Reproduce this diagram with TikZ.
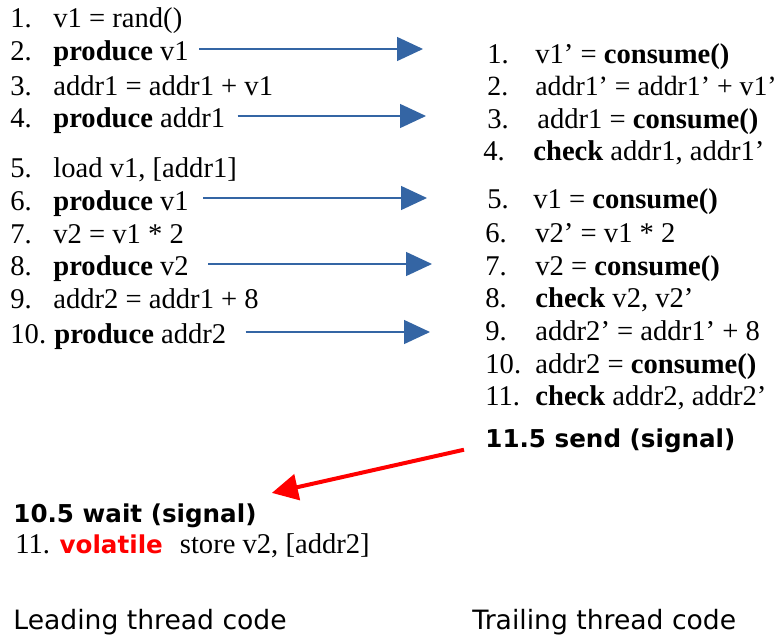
\documentclass[tikz,border=0pt]{standalone}
\usepackage{fontspec}
\setmainfont{Liberation Serif}
\setsansfont{DejaVu Sans}
\usetikzlibrary{arrows.meta,calc}

\definecolor{freccia}{RGB}{52,101,164}

% numeri di riga
\newcommand{\lnr}[2][21.5pt]{\makebox[#1][l]{#2}}
\newcommand{\rnr}[2][25pt]{\makebox[#1][l]{#2}}

\tikzset{
  riga/.style={anchor=base west, inner sep=0pt, font=\fontsize{14.3}{17}\selectfont},
  segnale/.style={anchor=base west, inner sep=0pt, font=\sffamily\bfseries\fontsize{12.3}{15}\selectfont},
  titolo/.style={anchor=base west, inner sep=0pt, font=\sffamily\fontsize{13.3}{16}\selectfont},
  passa/.style={freccia, line width=0.7pt, -{Triangle[length=13pt,width=12pt]}},
  attendi/.style={red, line width=2pt, -{Triangle[length=13pt,width=13pt]}},
}

\begin{document}
\begin{tikzpicture}[x=0.5pt,y=-0.5pt]
        \useasboundingbox (0,0) rectangle (781,637);

        % Thread principale
        \node[riga] (l1) at (10,27){\lnr{1.}v1 = rand()};
        \node[riga] (l2) at (10,60){\lnr{2.}\textbf{produce} v1};
        \node[riga] (l3) at (10,95){\lnr{3.}addr1 = addr1 + v1};
        \node[riga] (l4) at (10,127){\lnr{4.}\textbf{produce} addr1};
        \node[riga] (l5) at (10,177){\lnr{5.}load v1, [addr1]};
        \node[riga] (l6) at (10,210){\lnr{6.}\textbf{produce} v1};
        \node[riga] (l7) at (10,243){\lnr{7.}v2 = v1 * 2};
        \node[riga] (l8) at (10,275){\lnr{8.}\textbf{produce} v2};
        \node[riga] (l9) at (10,308){\lnr{9.}addr2 = addr1 + 8};
        \node[riga] (l10) at (10,343){\lnr[22pt]{10.}\textbf{produce} addr2};
        \node[segnale] (wait) at (13,522){10.5 wait (signal)};
        \node[riga] (l11) at (15,553){11. {\sffamily\bfseries\fontsize{12.3}{15}\selectfont\color{red}volatile}\hspace{8.5pt}store v2, [addr2]};

        % Thread di verifica
        \node[riga] (t1) at (487,63){\rnr[24pt]{1.}v1’ = \textbf{consume()}};
        \node[riga,font=\fontsize{13.9}{17}\selectfont] (t2) at (487,95){\rnr[24pt]{2.}addr1’ = addr1’ + v1’};
        \node[riga] (t3) at (487,128){\rnr{3.}addr1 = \textbf{consume()}};
        \node[riga] (t4) at (483,160){\rnr{4.}\textbf{check} addr1, addr1’};
        \node[riga] (t5) at (487,208){\rnr[23pt]{5.}v1 = \textbf{consume()}};
        \node[riga] (t6) at (485,242){\rnr{6.}v2’ = v1 * 2};
        \node[riga] (t7) at (485,275){\rnr{7.}v2 = \textbf{consume()}};
        \node[riga] (t8) at (485,307){\rnr{8.}\textbf{check} v2, v2’};
        \node[riga] (t9) at (485,340){\rnr{9.}addr2’ = addr1’ + 8};
        \node[riga] (t10) at (485,373){\rnr{10.}addr2 = \textbf{consume()}};
        \node[riga] (t11) at (485,405){\rnr{11.}\textbf{check} addr2, addr2’};
        \node[segnale] (send) at (485,447){11.5 send (signal)};

        % Didascalie
        \node[titolo] (lead) at (13,629){Leading thread code};
        \node[titolo] (trail) at (472,629){Trailing thread code};

        % Frecce produce
        \coordinate (f2) at (423,49);
        \coordinate (f4) at (426,116);
        \coordinate (f6) at (427,198);
        \coordinate (f8) at (432,264);
        \coordinate (f10) at (430,332);
        \draw[passa] ($(l2.base east)+(10,-11)$) -- (f2);
        \draw[passa] ($(l4.base east)+(12,-11)$) -- (f4);
        \draw[passa] ($(l6.base east)+(14,-12)$) -- (f6);
        \draw[passa] ($(l8.base east)+(19,-11)$) -- (f8);
        \draw[passa] ($(l10.base east)+(19,-11)$) -- (f10);

        % Segnale
        \draw[attendi] ($(send.south west)+(-21,-3)$) -- ($(wait.north east)+(15,-10)$);
      \end{tikzpicture}
\end{document}
